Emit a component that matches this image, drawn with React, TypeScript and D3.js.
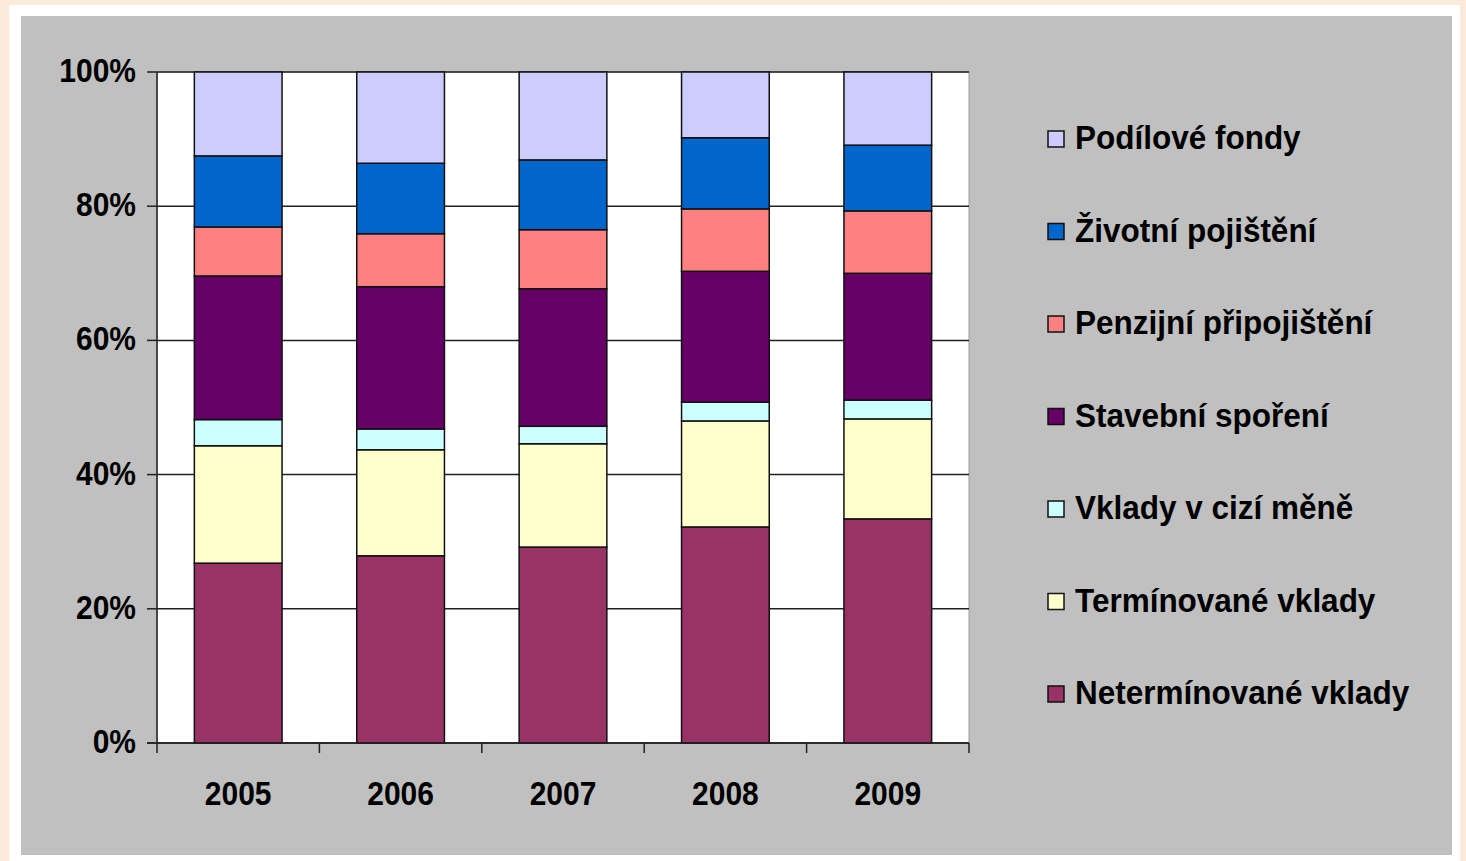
import React from "react";
import * as d3 from "d3";

const years = ["2005", "2006", "2007", "2008", "2009"];
const seriesNames = [
  "Netermínované vklady",
  "Termínované vklady",
  "Vklady v cizí měně",
  "Stavební spoření",
  "Penzijní připojištění",
  "Životní pojištění",
  "Podílové fondy",
];
const seriesColors = ["#993366", "#FFFFCC", "#CCFFFF", "#660066", "#FF8080", "#0066CC", "#CCCCFF"];

const neterminovane = [26.8, 27.9, 29.2, 32.2, 33.4];
const terminovane = [17.5, 15.8, 15.4, 15.8, 14.9];
const ciziMena = [3.9, 3.1, 2.6, 2.8, 2.8];
const stavebni = [21.4, 21.2, 20.5, 19.5, 18.9];
const penzijni = [7.3, 7.9, 8.8, 9.3, 9.3];
const zivotni = [10.6, 10.5, 10.4, 10.6, 9.8];
const podilove = [12.5, 13.6, 13.1, 9.8, 10.9];

const yTicks = [0, 20, 40, 60, 80, 100];

const W = 1466;
const H = 861;
const plot = { left: 157, right: 969, top: 72, bottom: 743 };

export default function App() {
  const seriesValues = [neterminovane, terminovane, ciziMena, stavebni, penzijni, zivotni, podilove];
  const table = years.map((y, i) => {
    const row: any = { year: y };
    const total = d3.sum(seriesValues, (s) => s[i]);
    seriesNames.forEach((n, k) => (row[n] = (seriesValues[k][i] / total) * 100));
    return row;
  });
  const stacked = d3.stack().keys(seriesNames)(table);

  const x = d3.scaleBand().domain(years).range([plot.left, plot.right]).paddingInner(0.46).paddingOuter(0.23);
  const xOuter = d3.scaleBand().domain(years).range([plot.left, plot.right]);
  const y = d3.scaleLinear().domain([0, 100]).range([plot.bottom, plot.top]);

  const textStyle: React.CSSProperties = { fontFamily: "'Liberation Sans', Arial, sans-serif", fontWeight: "bold" };

  const legendOrder = seriesNames.map((n, i) => i).reverse();
  const legendY = d3.scalePoint().domain(legendOrder.map(String)).range([138, 693]);

  return (
    <svg width={W} height={H} style={{ position: "fixed", left: 0, top: 0 }}>
      <rect x={0} y={0} width={W} height={H} fill="#FAEBDA" />
      <rect x={9} y={5} width={1451} height={856} fill="#FFFFFF" />
      <rect x={21} y={16} width={1431} height={839} fill="#C0C0C0" />
      <rect x={plot.left} y={plot.top} width={plot.right - plot.left} height={plot.bottom - plot.top} fill="#FFFFFF" stroke="#9a9a9a" strokeWidth={1} />
      {yTicks.map((t) => (
        <g key={t}>
          <line x1={plot.left} x2={plot.right} y1={y(t)} y2={y(t)} stroke="#222" strokeWidth={1.5} />
          <line x1={plot.left - 10} x2={plot.left} y1={y(t)} y2={y(t)} stroke="#222" strokeWidth={1.5} />
          <text
            x={0}
            y={0}
            transform={`translate(${plot.left - 21},${y(t) + 10}) scale(1,1.1)`}
            textAnchor="end"
            fontSize={30}
            fill="#000"
            style={textStyle}
          >
            {t}%
          </text>
        </g>
      ))}
      {stacked.map((layer, k) => (
        <g key={layer.key}>
          {layer.map((d, i) => (
            <rect
              key={i}
              x={x(years[i])}
              width={x.bandwidth()}
              y={y(d[1])}
              height={y(d[0]) - y(d[1])}
              fill={seriesColors[k]}
              stroke="#111"
              strokeWidth={1.5}
            />
          ))}
        </g>
      ))}
      <line x1={plot.left} x2={plot.left} y1={plot.top} y2={plot.bottom} stroke="#222" strokeWidth={1.5} />
      <line x1={plot.left - 10} x2={plot.right} y1={plot.bottom} y2={plot.bottom} stroke="#222" strokeWidth={1.5} />
      {years.map((yr) => (
        <line key={"t" + yr} x1={xOuter(yr)} x2={xOuter(yr)} y1={plot.bottom} y2={plot.bottom + 10} stroke="#222" strokeWidth={1.5} />
      ))}
      <line x1={plot.right} x2={plot.right} y1={plot.bottom} y2={plot.bottom + 10} stroke="#222" strokeWidth={1.5} />
      {years.map((yr) => (
        <text
          key={yr}
          x={0}
          y={0}
          transform={`translate(${(x(yr) as number) + x.bandwidth() / 2},${805}) scale(1,1.1)`}
          textAnchor="middle"
          fontSize={30}
          fill="#000"
          style={textStyle}
        >
          {yr}
        </text>
      ))}
      {legendOrder.map((k) => {
        const cy = legendY(String(k)) as number;
        return (
          <g key={"l" + k}>
            <rect x={1048} y={cy - 7} width={16} height={16} fill={seriesColors[k]} stroke="#111" strokeWidth={1.5} />
            <text
              x={0}
              y={0}
              transform={`translate(1075,${cy + 11}) scale(1,1.08)`}
              fontSize={31.5}
              fill="#000"
              style={textStyle}
            >
              {seriesNames[k]}
            </text>
          </g>
        );
      })}
    </svg>
  );
}
